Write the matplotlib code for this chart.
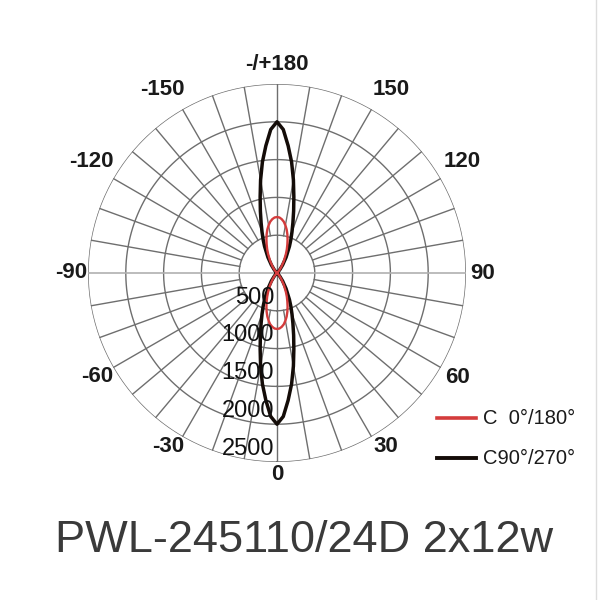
import numpy as np
import matplotlib
matplotlib.use('Agg')
import matplotlib.pyplot as plt
from matplotlib.lines import Line2D

# intensity curves (cd), symmetric
angles = [0, 2.5, 5, 7.5, 10, 12.5, 15, 17.5, 20, 22.5, 25, 30, 35, 40, 45, 50, 55,
          60, 65, 70, 75, 80, 85, 90]
c0_180 = [740, 735, 715, 685, 640, 590, 530, 465, 400, 340, 280, 180, 100, 50, 20, 5, 0,
          0, 0, 0, 0, 0, 0, 0]
c90_270 = [2000, 1900, 1690, 1480, 1250, 1030, 850, 700, 580, 480, 390, 240, 130, 60, 25, 8, 0,
           0, 0, 0, 0, 0, 0, 0]

rings = [500, 1000, 1500, 2000, 2500]
angle_ticks = [0, 30, 60, 90, 120, 150, 180, -150, -120, -90, -60, -30]
angle_labels = ['0', '30', '60', '90', '120', '150', '-/+180', '-150', '-120', '-90', '-60', '-30']
legend_labels = ['C  0°/180°', 'C90°/270°']

FONT = ['Liberation Sans', 'DejaVu Sans']
plt.rcParams['font.family'] = FONT

fig = plt.figure(figsize=(6, 6), dpi=100)
fig.patch.set_facecolor('white')
R = 189
cx, cy = 277, 273
ax = fig.add_axes([(cx - R) / 600, (600 - cy - R) / 600, 2 * R / 600, 2 * R / 600],
                  projection='polar')
ax.set_theta_zero_location('S')
ax.set_theta_direction(1)
ax.set_ylim(0, rings[-1])
ax.set_xticks([])
ax.set_yticks([])
ax.grid(False)
ax.spines['polar'].set_visible(False)

gcol = '#6e6e6e'
t = np.linspace(0, 2 * np.pi, 400)
for r in rings:
    ax.plot(t, np.full_like(t, r), color=gcol, lw=1.0, zorder=1)
for a in range(0, 360, 10):
    th = np.deg2rad(a)
    if a % 90 == 0:
        col = '#b0b0b0' if a in (90, 270) else gcol
        ax.plot([th, th], [0, rings[-1]], color=col, lw=1.2 if a in (90, 270) else 1.0, zorder=1)
    else:
        ax.plot([th, th], [rings[0], rings[-1]], color=gcol, lw=1.0, zorder=1)


def full_curve(vals):
    a = np.array(angles, dtype=float)
    v = np.array(vals, dtype=float)
    th = np.concatenate([-a[::-1], a[1:]])
    rv = np.concatenate([v[::-1], v[1:]])
    return np.deg2rad(th), rv


th, rv = full_curve(c90_270)
ax.plot(th, rv, color='#140c08', lw=2.5, zorder=3, solid_joinstyle='round')
ax.plot(th + np.pi, rv, color='#140c08', lw=2.5, zorder=3, solid_joinstyle='round')
th, rv = full_curve(c0_180)
ax.plot(th, rv, color='#d43c3c', lw=1.7, zorder=4, solid_joinstyle='round')
ax.plot(th + np.pi, rv, color='#d43c3c', lw=1.7, zorder=4, solid_joinstyle='round')

# angle labels: (label angle, radius in px) tweaks to sit like the scan
place = {0: (0, 202), 30: (32, 205), 60: (60, 208), 90: (90, 206), 120: (121, 216),
         150: (148, 216), 180: (180, 208)}
for a, lab in zip(angle_ticks, angle_labels):
    ang, px = place[abs(a)]
    ang = ang if a >= 0 else -ang
    ax.text(np.deg2rad(ang), px / R * rings[-1], lab, ha='center', va='center',
            fontsize=16, fontweight='bold', color='#1a1a1a', clip_on=False)

# ring labels
for r in rings:
    ax.annotate(str(r), xy=(0, r - 175), xytext=(-3, 0), textcoords='offset pixels',
                ha='right', va='center', fontsize=17, color='#111111',
                annotation_clip=False, zorder=5)

# legend
for y, col, lw, lab in [(418, '#d43c3c', 2.6, legend_labels[0]),
                        (458, '#140c08', 2.8, legend_labels[1])]:
    fig.add_artist(Line2D([437 / 600, 476 / 600], [1 - y / 600, 1 - y / 600],
                          color=col, lw=lw))
    fig.text(483 / 600, 1 - y / 600, lab, ha='left', va='center', fontsize=14.5,
             color='#1a1a1a')

fig.text(304 / 600, 1 - 540 / 600, 'PWL-245110/24D 2x12w', ha='center', va='center',
         fontsize=32.5, color='#3a3a3a')

# thin border on the right like in the scan
fig.add_artist(Line2D([596 / 600, 596 / 600], [0.0, 1.0], color='#dddddd', lw=1))

fig.savefig('out.png', dpi=100, facecolor='white')
